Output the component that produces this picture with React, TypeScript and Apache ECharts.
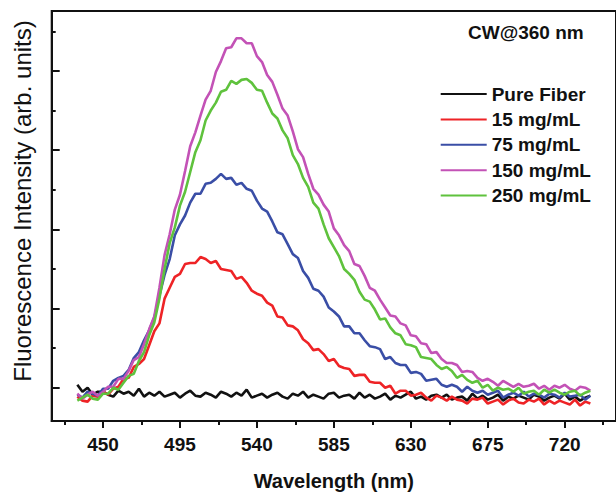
import React, { useEffect, useRef } from "react";
import * as echarts from "echarts";

// Wavelength sampling grid (nm): first point and step
const WL_START = 435;
const WL_STEP = 3;

const seriesNames = ["Pure Fiber", "15 mg/mL", "75 mg/mL", "150 mg/mL", "250 mg/mL"];
const seriesColors = ["#111111", "#ee2326", "#3a4ea6", "#c352b6", "#5fc23d"];

// Intensity (arb. units), one value per 3 nm from 435 to 735 nm
const pureFiber = [
  3, -4, 0, -7, -4, -4, -7, -9, -3, -6, -4, -8, -1, -9, -5, -8, -4, -9, -7, -5,
  -10, -6, -3, -8, -9, -5, -7, -10, -4, -6, -9, -5, -8, -2, -10, -8, -6, -10, -7, -5,
  -9, -11, -6, -8, -4, -10, -7, -9, -11, -6, -5, -10, -8, -7, -11, -5, -10, -7, -11, -9,
  -6, -12, -8, -10, -7, -4, -11, -9, -12, -8, -7, -10, -7, -12, -10, -9, -13, -6, -11, -8,
  -12, -10, -7, -13, -9, -11, -8, -10, -12, -7, -9, -13, -10, -8, -11, -6, -12, -9, -13, -10,
  -8,
];
const mg15 = [
  -9, -13, -14, -8, -9, -4, -7, -1, 1, 9, 10, 21, 24, 29, 43, 57, 65, 90, 101, 112,
  115, 125, 126, 126, 132, 130, 126, 128, 120, 119, 118, 110, 112, 106, 98, 95, 93, 86, 83, 72,
  71, 63, 62, 58, 49, 45, 38, 39, 34, 27, 29, 22, 20, 19, 12, 13, 13, 6, 5, 5,
  0, 2, -6, -3, -3, -8, -7, -5, -10, -13, -8, -10, -13, -9, -12, -13, -16, -11, -12, -10,
  -16, -14, -12, -17, -13, -11, -15, -16, -12, -14, -11, -17, -13, -16, -13, -15, -17, -12, -18, -14,
  -16,
];
const mg75 = [
  -7, -10, -4, -6, -8, -1, -1, 7, 10, 12, 18, 30, 36, 48, 58, 71, 93, 114, 130, 154,
  165, 174, 187, 196, 196, 206, 207, 211, 216, 211, 212, 205, 207, 201, 199, 189, 181, 178, 168, 157,
  155, 145, 135, 131, 118, 111, 100, 98, 92, 81, 77, 72, 62, 62, 55, 55, 48, 42, 41, 39,
  29, 31, 25, 23, 23, 15, 16, 14, 7, 8, 9, 3, 1, 3, 1, -4, 1, -3, -5, -3,
  -7, -5, -3, -10, -7, -5, -8, -4, -9, -6, -7, -10, -6, -7, -10, -5, -9, -8, -7, -12,
  -8,
];
const mg150 = [
  -6, -11, -7, -4, -8, -4, 1, 1, 9, 9, 17, 28, 31, 44, 59, 72, 101, 134, 155, 180,
  195, 219, 244, 258, 275, 291, 300, 319, 330, 343, 344, 353, 353, 348, 348, 335, 329, 316, 309, 296,
  282, 275, 259, 241, 233, 216, 201, 195, 185, 178, 161, 154, 144, 138, 125, 123, 113, 101, 98, 89,
  81, 73, 72, 65, 63, 53, 52, 45, 44, 35, 36, 29, 25, 25, 23, 16, 17, 16, 10, 7,
  9, 6, 2, 7, 4, 1, 4, 1, 2, 4, -1, 2, -2, 2, 0, 3, -1, -3, 1, 0,
  -3,
];
const mg250 = [
  -13, -10, -7, -11, -12, -6, -6, 0, -2, 5, 12, 14, 27, 36, 53, 66, 90, 120, 146, 162,
  184, 198, 218, 238, 250, 270, 280, 288, 299, 301, 310, 307, 311, 312, 308, 301, 300, 288, 277, 272,
  260, 252, 235, 226, 212, 203, 187, 181, 165, 151, 142, 133, 120, 115, 109, 97, 89, 87, 79, 69,
  70, 61, 55, 53, 44, 43, 41, 31, 30, 29, 23, 19, 21, 17, 10, 13, 8, 5, 7, 0,
  3, -3, 0, -2, -1, -4, 0, -6, -4, -3, -7, -2, -5, -2, -5, -7, -4, -3, -8, -5,
  -3,
];
const seriesValues = [pureFiber, mg15, mg75, mg150, mg250];

// Axis ticks and labels
const xLabelValues = [450, 495, 540, 585, 630, 675, 720];
const xMinorValues = [427.5, 472.5, 517.5, 562.5, 607.5, 652.5, 697.5, 742.5];
const yMajorValues = [0, 80, 160, 240, 320];
const yMinorValues = [40, 120, 200, 280, 360];

const FONT = "'Liberation Sans', Arial, sans-serif";

export default function App() {
  const ref = useRef<HTMLDivElement>(null);

  useEffect(() => {
    if (!ref.current) return;
    const chart = echarts.init(ref.current, undefined, { renderer: "svg" });

    const series = seriesNames.map((name, i) => ({
      name,
      type: "line",
      xAxisIndex: 0,
      yAxisIndex: 0,
      showSymbol: false,
      symbol: "none",
      lineStyle: { color: seriesColors[i], width: 2.6 },
      itemStyle: { color: seriesColors[i] },
      data: seriesValues[i].map((v, k) => [WL_START + k * WL_STEP, v]),
      z: 2 + i,
    }));

    const yMin = -33.6;
    const yMax = 380.6;

    chart.setOption({
      animation: false,
      backgroundColor: "#ffffff",
      textStyle: { fontFamily: FONT },
      grid: {
        left: 51.7,
        top: 11,
        right: -2.1,
        bottom: 69.3,
        show: true,
        borderColor: "#111",
        borderWidth: 2,
        backgroundColor: "transparent",
      },
      title: {
        text: "CW@360 nm",
        left: 468,
        top: 23,
        padding: 0,
        textStyle: { fontFamily: FONT, fontSize: 19, fontWeight: "bold", color: "#111" },
      },
      legend: {
        orient: "vertical",
        left: 440.7,
        top: 83,
        padding: 0,
        icon: "rect",
        itemWidth: 46,
        itemHeight: 2,
        itemGap: 3.4,
        data: seriesNames,
        textStyle: {
          fontFamily: FONT,
          fontSize: 19,
          fontWeight: "bold",
          color: "#111",
          lineHeight: 22,
        },
      },
      xAxis: [
        {
          type: "value",
          position: "bottom",
          min: 420,
          max: 750,
          name: "Wavelength (nm)",
          nameLocation: "middle",
          nameGap: 50,
          nameTextStyle: { fontFamily: FONT, fontSize: 20, fontWeight: "bold", color: "#111" },
          axisLine: { show: true, onZero: false, lineStyle: { color: "#111", width: 2 } },
          axisTick: { show: true, customValues: xLabelValues, length: 7, lineStyle: { color: "#111", width: 2 } },
          axisLabel: {
            show: true,
            customValues: xLabelValues,
            margin: 14,
            fontFamily: FONT,
            fontSize: 19,
            fontWeight: "bold",
            color: "#111",
          },
          splitLine: { show: false },
        },
        {
          type: "value",
          position: "bottom",
          min: 420,
          max: 750,
          axisLine: { show: false, onZero: false },
          axisTick: { show: true, customValues: xMinorValues, length: 4, lineStyle: { color: "#111", width: 2 } },
          axisLabel: { show: false },
          splitLine: { show: false },
        },
      ],
      yAxis: [
        {
          type: "value",
          position: "left",
          min: yMin,
          max: yMax,
          axisLine: { show: true, onZero: false, lineStyle: { color: "#111", width: 2 } },
          axisTick: { show: true, inside: true, customValues: yMajorValues, length: 8, lineStyle: { color: "#111", width: 2 } },
          axisLabel: { show: false },
          splitLine: { show: false },
        },
        {
          type: "value",
          position: "left",
          min: yMin,
          max: yMax,
          axisLine: { show: false, onZero: false },
          axisTick: { show: true, inside: true, customValues: yMinorValues, length: 4, lineStyle: { color: "#111", width: 2 } },
          axisLabel: { show: false },
          splitLine: { show: false },
        },
      ],
      graphic: [
        {
          type: "text",
          x: 22,
          y: 201,
          rotation: Math.PI / 2,
          style: {
            text: "Fluorescence Intensity (arb. units)",
            fontFamily: FONT,
            fontSize: 24,
            fill: "#111",
            align: "center",
            verticalAlign: "middle",
          },
        },
      ],
      series,
    });

    return () => chart.dispose();
  }, []);

  return (
    <div
      ref={ref}
      style={{ position: "fixed", left: 0, top: 0, width: 616, height: 496, background: "#fff" }}
    />
  );
}
